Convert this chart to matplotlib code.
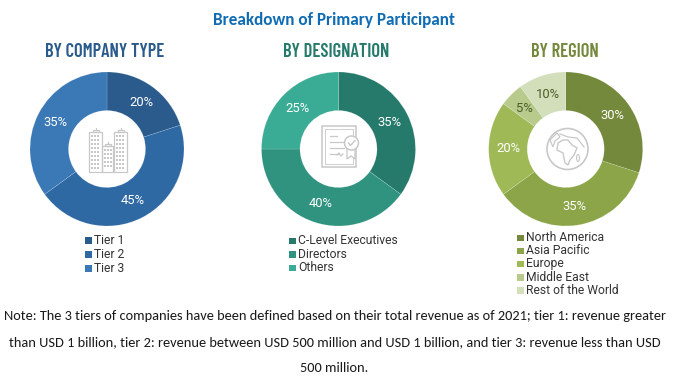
import numpy as np
import matplotlib
matplotlib.use("Agg")
import matplotlib.pyplot as plt
from matplotlib.patches import Rectangle, Circle, Polygon, Ellipse

W, H = 674, 387

company_labels = ["Tier 1", "Tier 2", "Tier 3"]
company_values = [20, 45, 35]
company_colors = ["#2a5b8c", "#2f69a4", "#3a78b6"]

designation_labels = ["C-Level Executives", "Directors", "Others"]
designation_values = [35, 40, 25]
designation_colors = ["#267a6b", "#2f9380", "#3aab94"]

region_labels = ["North America", "Asia Pacific", "Europe", "Middle East", "Rest of the World"]
region_values = [30, 35, 20, 5, 10]
region_colors = ["#74893c", "#8ba548", "#9fb957", "#b8cb8c", "#d3dfbb"]

title = "Breakdown of Primary Participant"
note_lines = [
    "Note: The 3 tiers of companies have been defined based on their total revenue as of 2021; tier 1: revenue greater",
    "than USD 1 billion, tier 2: revenue between USD 500 million and USD 1 billion, and tier 3: revenue less than USD",
    "500 million.",
]

fig = plt.figure(figsize=(W / 100, H / 100), dpi=100, facecolor="white")
bg = fig.add_axes([0, 0, 1, 1])
bg.set_xlim(0, W)
bg.set_ylim(H, 0)
bg.axis("off")

GREY = "#c8c8c8"
TXT = "#333333"
BODY_FONT = ["Carlito", "Lato"]
HEAD_FONT = ["Barlow Condensed", "Roboto"]


def donut(cx, cy, values, colors, pct_colors, pct_r=0.75):
    r = 77
    ax = fig.add_axes([(cx - r - 1) / W, 1 - (cy + r + 1) / H, (2 * r + 2) / W, (2 * r + 2) / H])
    ax.set_aspect("equal")
    ax.axis("off")
    wedges, _ = ax.pie(values, colors=colors, startangle=90, counterclock=False, radius=r,
                       wedgeprops=dict(width=r - 38.5, edgecolor="#ffffff40", linewidth=0.4))
    ax.set_xlim(-(r + 1), r + 1)
    ax.set_ylim(-(r + 1), r + 1)
    for w, v, c in zip(wedges, values, pct_colors):
        a = np.deg2rad((w.theta1 + w.theta2) / 2)
        ax.text(pct_r * r * np.cos(a), pct_r * r * np.sin(a), f"{v}%", color=c, fontsize=9.4,
                ha="center", va="center", family="Roboto")


def legend(x, y0, dy, labels, colors):
    for i, (l, c) in enumerate(zip(labels, colors)):
        y = y0 + i * dy
        bg.add_patch(Rectangle((x, y - 3), 6.5, 6.5, color=c, lw=0))
        bg.text(x + 9, y, l, fontsize=8.7, color=TXT, va="center", ha="left", family="Roboto")


def heading(x, text, color):
    bg.text(x, 52, text, fontsize=13.3, color=color, ha="center", va="center",
            family=HEAD_FONT, fontweight="semibold")


bg.text(334, 19.5, title, fontsize=12.3, fontweight="bold", color="#0f6cb4", ha="center", va="center",
        family=BODY_FONT)
heading(105, "BY COMPANY TYPE", "#2a5b8c")
heading(336.5, "BY DESIGNATION", "#267a6b")
heading(565, "BY REGION", "#74893c")

donut(107, 149, company_values, company_colors, ["white"] * 3)
donut(338.5, 149, designation_values, designation_colors, ["white"] * 3)
donut(565.7, 149, region_values, region_colors, ["white", "white", "white", "#4d5c2a", "#4d5c2a"])

legend(85, 240, 14.2, company_labels, company_colors)
legend(289, 240.5, 13.6, designation_labels, designation_colors)
legend(517, 237.5, 13.2, region_labels, region_colors)

# Decorative icons in the donut holes
ic = dict(fill=False, edgecolor=GREY, lw=0.9)
for x, y, w, h in [(89, 132, 13, 40), (102, 146, 11, 26), (114, 132, 13, 40)]:
    bg.add_patch(Rectangle((x, y), w, h, **ic))
    bg.add_patch(Rectangle((x + w / 2 - 3, y - 2), 6, 2, **ic))
    bg.plot([x + w / 2, x + w / 2], [y - 4, y - 2], color=GREY, lw=0.8)
    for yy in np.arange(y + 3, y + h - 3, 4):
        for xx in np.arange(x + 2, x + w - 2, 3.2):
            bg.add_patch(Rectangle((xx, yy), 1.8, 2.1, color=GREY, lw=0))
bg.add_patch(Rectangle((322, 126), 34, 41, fill=False, edgecolor=GREY, lw=1.1))
bg.add_patch(Rectangle((325, 129), 28, 35, fill=False, edgecolor=GREY, lw=0.6))
for yy, xa, xb in [(136, 330, 337), (142, 330, 345), (148, 330, 344), (154, 330, 338)]:
    bg.plot([xa, xb], [yy, yy], color=GREY, lw=0.9)
bg.plot([337, 339, 341, 343], [155, 153, 156, 154], color=GREY, lw=0.9)
bg.add_patch(Polygon([(347, 148), (347, 159), (351, 156), (355, 159), (355, 148)],
                     facecolor="white", edgecolor=GREY, lw=0.9, zorder=4))
bg.add_patch(Circle((351.5, 143), 7, facecolor="white", edgecolor=GREY, lw=1.1, zorder=4))
bg.plot([348.5, 350.5, 355], [143, 145.5, 140.5], color=GREY, lw=1, zorder=5)
bg.add_patch(Circle((567.5, 149), 20.5, fill=False, edgecolor=GREY, lw=1.2))
bg.add_patch(Polygon([(558, 143), (563, 140), (568, 140), (572, 145), (577, 148), (574, 155), (570, 160),
                      (568, 165), (565, 163), (563, 153), (557, 150)], fill=False, edgecolor=GREY, lw=1))
bg.add_patch(Polygon([(550, 140), (557, 133), (560, 137), (555, 141), (553, 147)],
                     fill=False, edgecolor=GREY, lw=0.9))
bg.plot([560, 568, 577, 584], [134, 137, 138, 147], color=GREY, lw=0.9)
bg.add_patch(Ellipse((578, 158), 3, 7, fill=False, edgecolor=GREY, lw=0.8))

for y, line in zip([316.5, 342, 367.5], note_lines):
    bg.text(334.5, y, line, fontsize=10.35, color="#1a1a1a", ha="center", va="center", family=BODY_FONT)

fig.savefig("out.png", dpi=100)
